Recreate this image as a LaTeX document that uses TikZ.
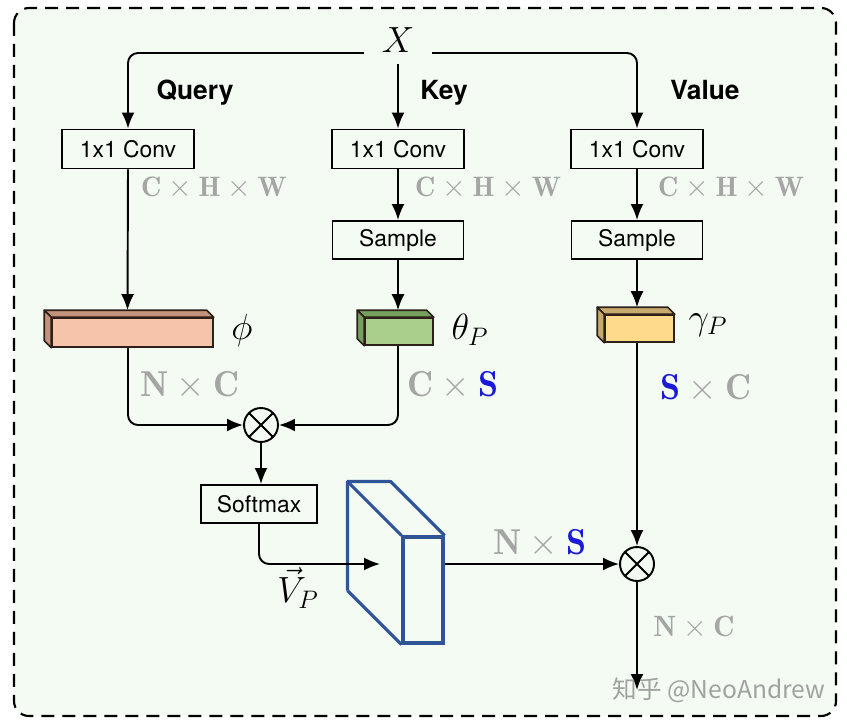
\documentclass[tikz,border=0pt]{standalone}
\usepackage{fontspec}
\setsansfont{TeX Gyre Heros}
\newfontfamily\cjk{Noto Sans CJK SC}
\usetikzlibrary{
    arrows.meta,
    calc,
    positioning}

\definecolor{bgc}{RGB}{243,251,242}
\definecolor{dimc}{RGB}{165,165,165}
\definecolor{sblue}{RGB}{25,25,215}
\definecolor{vpblue}{RGB}{47,85,151}
\definecolor{edgec}{RGB}{45,32,24}
\definecolor{phic}{RGB}{246,196,170}
\definecolor{phitop}{RGB}{196,146,122}
\definecolor{thetac}{RGB}{168,208,140}
\definecolor{thetatop}{RGB}{118,160,94}
\definecolor{gammac}{RGB}{254,218,140}
\definecolor{gammatop}{RGB}{200,170,110}

\tikzset{
  arr/.style={-{Latex[length=3.2mm,width=2.6mm]},line width=1.1pt},
  box/.style={draw,line width=1.1pt,font=\sffamily\fontsize{13}{15}\selectfont,
    minimum width=2.64cm,minimum height=0.78cm,inner sep=0pt},
  branch/.style={anchor=base,font=\sffamily\bfseries\fontsize{15}{18}\selectfont},
  dimlab/.style={text=dimc,font=\fontsize{20.5}{24}\selectfont},
  hwlab/.style={text=dimc,font=\fontsize{16}{19}\selectfont},
  sym/.style={font=\fontsize{21}{25}\selectfont},
  mult/.style={circle,draw,line width=1.1pt,minimum size=0.68cm,inner sep=0pt,
    path picture={\draw[line width=1.1pt] (path picture bounding box.north west) -- (path picture bounding box.south east)
      (path picture bounding box.north east) -- (path picture bounding box.south west);}},
  feat/.style={draw=edgec,line width=0.9pt,inner sep=0pt},
  face/.style={draw=edgec,line width=0.9pt,line join=round},
  vpline/.style={draw=vpblue,line width=1.8pt,line join=round}
}

\begin{document}
\begin{tikzpicture}[x=0.02cm,y=-0.02cm]

 % frame
 \fill[white] (0,0) rectangle (847,726);
 \draw[fill=bgc,line width=1.2pt,dash pattern=on 0.26cm off 0.16cm,rounded corners=0.3cm] (14,8) rectangle (836,716);
 \useasboundingbox (0,0) rectangle (847,726);

 \node[sym,anchor=base,inner xsep=10pt,inner ysep=6pt] (X) at (398,53) {$X$};
 \node[branch] (query) at (195,100) {Query};
 \node[branch] (key) at (444,100) {Key};
 \node[branch] (value) at (705,100) {Value};

 \node[box] (qconv) at (128,149) {1x1 Conv};
 \node[box] (kconv) at (398,149) {1x1 Conv};
 \node[box] (vconv) at (637,149) {1x1 Conv};
 \node[box,minimum width=2.62cm,minimum height=0.76cm] (ksamp) at (398,240) {Sample};
 \node[box,minimum width=2.62cm,minimum height=0.76cm] (vsamp) at (637,240) {Sample};

 \node[hwlab] (qdim) at (214,188) {$\mathbf{C}\times\mathbf{H}\times\mathbf{W}$};
 \node[hwlab] (kdim) at (488,188) {$\mathbf{C}\times\mathbf{H}\times\mathbf{W}$};
 \node[hwlab] (vdim) at (731,188) {$\mathbf{C}\times\mathbf{H}\times\mathbf{W}$};

 % feature blocks
 \node[feat,fill=phic,minimum width=3.22cm,minimum height=0.58cm] (phi) at (132.5,332.5) {};
 \node[feat,fill=thetac,minimum width=1.36cm,minimum height=0.54cm] (theta) at (399,331.5) {};
 \node[feat,fill=gammac,minimum width=1.38cm,minimum height=0.54cm] (gamma) at (639.5,328.5) {};
 \foreach \n/\t in {phi/phitop,theta/thetatop,gamma/gammatop}{
  \filldraw[face,fill=\t] ($(\n.north west)+(-7,-7)$) -- ($(\n.north east)+(-7,-7)$) -- (\n.north east) -- (\n.north west) -- cycle;
  \filldraw[face,fill=\t] ($(\n.north west)+(-7,-7)$) -- (\n.north west) -- (\n.south west) -- ($(\n.south west)+(-7,-7)$) -- cycle;
 }
 \node[sym] (phil) at (242,330) {$\phi$};
 \node[sym] (thetal) at (470,330) {$\theta_P$};
 \node[sym] (gammal) at (708,325) {$\gamma_P$};

 \node[mult] (m1) at (261,425) {};
 \node[mult] (m2) at (637,564) {};
 \node[dimlab] (nc) at (190,385) {$\mathbf{N}\times\mathbf{C}$};
 \node[dimlab] (cs) at (453,385) {$\mathbf{C}\times\textcolor{sblue}{\mathbf{S}}$};
 \node[dimlab] (sc) at (706,388) {$\textcolor{sblue}{\mathbf{S}}\times\mathbf{C}$};
 \node[dimlab] (ns) at (540,543) {$\mathbf{N}\times\textcolor{sblue}{\mathbf{S}}$};
 \node[hwlab,font=\fontsize{16.7}{20}\selectfont] (ncout) at (694,628) {$\mathbf{N}\times\mathbf{C}$};

 \node[box,minimum width=2.32cm,minimum height=0.76cm] (soft) at (259,504) {Softmax};
 \node[sym] (vpl) at (298,588) {$\vec{V}_P$};

 % attention map
 \node[draw=vpblue,line width=1.8pt,minimum width=0.8cm,minimum height=2.12cm,inner sep=0pt] (vp) at (423,590) {};
 \draw[vpline] ($(vp.south west)+(-54,-54)$) -- ($(vp.north west)+(-54,-54)$) -- ($(vp.north east)+(-54,-54)$) -- (vp.north east);
 \draw[vpline] ($(vp.north west)+(-54,-54)$) -- (vp.north west);
 \draw[vpline] ($(vp.south west)+(-54,-54)$) -- (vp.south west);
 \coordinate (vin) at (380,564);
 \coordinate (out) at (637,690);

 % connectors
 \draw[arr,rounded corners=2mm] (X.base west) -| (qconv.north);
 \draw[arr,rounded corners=2mm] (X.base east) -| (vconv.north);
 \draw[arr] (X.south) -- (kconv.north);
 \draw[arr] (qconv.south) -- ($(phi.north)+(-5,-7)$);
 \draw[arr] (kconv.south) -- (ksamp.north);
 \draw[arr] (ksamp.south) -- ($(theta.north)+(-1,-7)$);
 \draw[arr] (vconv.south) -- (vsamp.north);
 \draw[arr] (vsamp.south) -- ($(gamma.north)+(-2.5,-7)$);
 \draw[arr,rounded corners=2mm] (qconv |- phi.south) |- (m1.west);
 \draw[arr,rounded corners=2mm] (kconv |- theta.south) |- (m1.east);
 \draw[arr] (m1.south) -- (m1 |- soft.north);
 \draw[arr,rounded corners=2mm] (soft.south) |- (vin);
 \draw[arr] (vp.east |- m2) -- (m2.west);
 \draw[arr] (vconv |- gamma.south) -- (m2.north);
 \draw[arr] (m2.south) -- (out);

 \node[text=black!45,opacity=0.8,font=\cjk\fontsize{14}{16}\selectfont] (wm) at (719,690) {知乎 @NeoAndrew};
\end{tikzpicture}
\end{document}
